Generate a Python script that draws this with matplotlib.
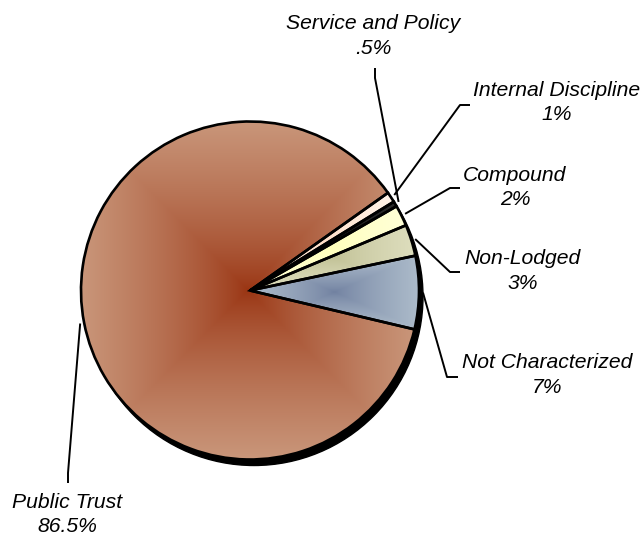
import matplotlib
matplotlib.use("Agg")
import matplotlib.pyplot as plt
import matplotlib.patches as mpatches
import numpy as np

# complaint categories, counter-clockwise from the first slice
categories = ["Not Characterized", "Non-Lodged", "Compound",
              "Service and Policy", "Internal Discipline", "Public Trust"]
shares = [7, 3, 2, 0.5, 1, 86.5]

# gradient colours per slice: (centre, edge)
dark = [(112, 128, 160), (192, 192, 148), (255, 255, 185), (15, 15, 15),
        (255, 222, 198), (153, 51, 17)]
light = [(172, 187, 202), (222, 222, 190), (255, 255, 215), (45, 45, 45),
         (255, 243, 232), (201, 150, 122)]

W, H = 644, 538
cx, cy, R = 250, H - 290.5, 169

# label block centres, then the two leader points (near text, elbow), in px
label_xy = [(547, 375), (522.5, 271), (515, 187.5), (373, 36), (556.5, 102.5), (67.5, 514.5)]
leader = [[(458, 377), (447, 377)],
          [(460, 272), (450, 272)],
          [(460, 188), (450, 188)],
          [(375, 68), (375, 78)],
          [(470, 105), (460, 105)],
          [(68, 483), (68, 473)]]

fig = plt.figure(figsize=(W / 100, H / 100), dpi=100)
ax = fig.add_axes([0, 0, 1, 1])

# drop shadow
ax.add_patch(mpatches.Circle((cx + 4, cy - 6), R, color="black", zorder=1))

wedges, _ = ax.pie(shares, startangle=-13.3, counterclock=True, center=(cx, cy),
                   radius=R, frame=True,
                   wedgeprops=dict(facecolor="none", edgecolor="black", linewidth=1.9, zorder=3))

# rectangular "from centre" gradient fill for each slice
n = 300
u = np.linspace(-1, 1, n)
U, V = np.meshgrid(u, u)
T = (np.maximum(np.abs(U), np.abs(V)) ** 0.75)[..., None]
for w, c0, c1 in zip(wedges, dark, light):
    th = np.radians(np.linspace(w.theta1, w.theta2, 200))
    xs = np.r_[cx, cx + R * np.cos(th)]
    ys = np.r_[cy, cy + R * np.sin(th)]
    c0 = np.array(c0) / 255
    c1 = np.array(c1) / 255
    img = c0 + (c1 - c0) * T
    im = ax.imshow(img, extent=(xs.min(), xs.max(), ys.min(), ys.max()),
                   origin="lower", interpolation="bilinear", zorder=2)
    im.set_clip_path(w)

# labels and leader lines
for w, name, val, (lx, ly), pts in zip(wedges, categories, shares, label_xy, leader):
    mid = np.radians((w.theta1 + w.theta2) / 2)
    ex = cx + (R + 4) * np.cos(mid)
    ey = cy + (R + 4) * np.sin(mid)
    px = [p[0] for p in pts] + [ex]
    py = [H - p[1] for p in pts] + [ey]
    ax.plot(px, py, color="black", lw=1.4, zorder=4, solid_capstyle="butt")
    pct = f"{val:g}".lstrip("0") + "%"
    ax.text(lx, H - ly, f"{name}\n{pct}", ha="center", va="center",
            multialignment="center", linespacing=1.35,
            fontsize=15.2, style="italic", family="Liberation Sans", color="black")

ax.set_xlim(0, W)
ax.set_ylim(0, H)
ax.set_aspect("equal")
ax.axis("off")

fig.savefig("out.png", dpi=100)
